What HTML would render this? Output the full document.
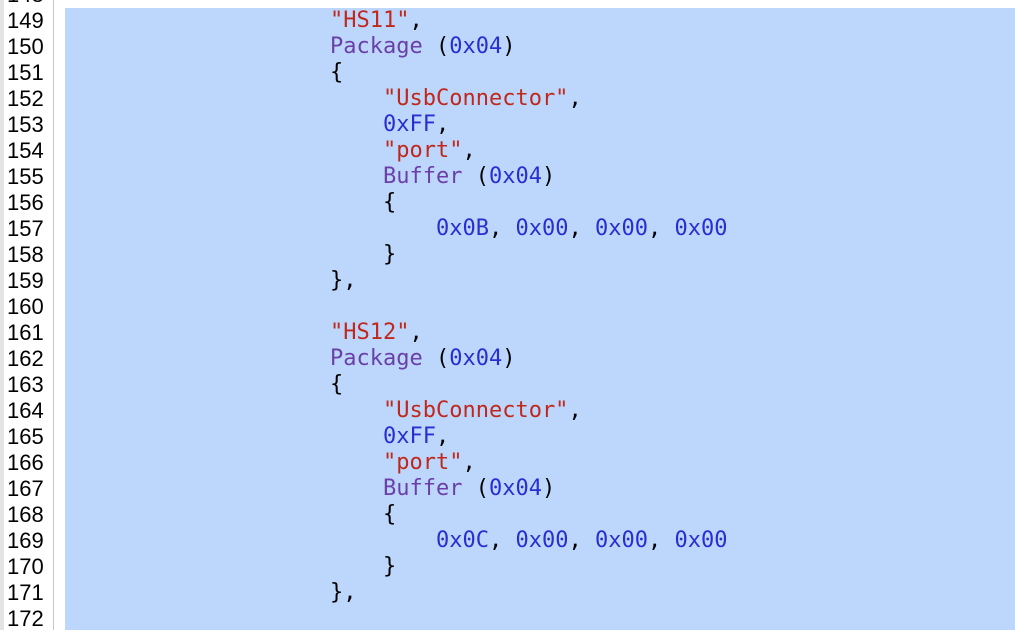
<!DOCTYPE html>
<html><head><meta charset="utf-8"><style>
body{margin:0;width:1015px;height:630px;overflow:hidden;background:#fff;position:relative;font-family:"DejaVu Sans Mono","Liberation Mono",monospace}
.gut{position:absolute;left:0;top:0;width:4px;height:630px;background:#e4e4e4}
.gl{position:absolute;left:53px;top:0;width:1px;height:630px;background:#c8c8c8}
.sel{position:absolute;left:65px;top:8px;width:950px;height:622px;background:#bdd6fc}
.n{position:absolute;left:7px;font-family:"Liberation Sans",sans-serif;font-size:22px;line-height:26px;color:#000}
.c{position:absolute;font-size:22px;line-height:26px;white-space:pre;color:#000}
.s{color:#c0281c}.p{color:#6a40a8}.h{color:#2a2ed0}
</style></head><body>
<div class="gut"></div><div class="gl"></div><div class="sel"></div>
<div class="n" style="top:-18px">148</div>
<div class="n" style="top:8px">149</div><div class="n" style="top:34px">150</div><div class="n" style="top:60px">151</div><div class="n" style="top:86px">152</div><div class="n" style="top:112px">153</div><div class="n" style="top:138px">154</div><div class="n" style="top:164px">155</div><div class="n" style="top:190px">156</div><div class="n" style="top:216px">157</div><div class="n" style="top:242px">158</div><div class="n" style="top:268px">159</div><div class="n" style="top:294px">160</div><div class="n" style="top:320px">161</div><div class="n" style="top:346px">162</div><div class="n" style="top:372px">163</div><div class="n" style="top:398px">164</div><div class="n" style="top:424px">165</div><div class="n" style="top:450px">166</div><div class="n" style="top:476px">167</div><div class="n" style="top:502px">168</div><div class="n" style="top:528px">169</div><div class="n" style="top:554px">170</div><div class="n" style="top:580px">171</div><div class="n" style="top:606px">172</div>

<div class="c" style="left:330px;top:8px"><span class="s">"HS11"</span>,</div>
<div class="c" style="left:330px;top:34px"><span class="p">Package</span> (<span class="h">0x04</span>)</div>
<div class="c" style="left:330px;top:60px">{</div>
<div class="c" style="left:383px;top:86px"><span class="s">"UsbConnector"</span>,</div>
<div class="c" style="left:383px;top:112px"><span class="h">0xFF</span>,</div>
<div class="c" style="left:383px;top:138px"><span class="s">"port"</span>,</div>
<div class="c" style="left:383px;top:164px"><span class="p">Buffer</span> (<span class="h">0x04</span>)</div>
<div class="c" style="left:383px;top:190px">{</div>
<div class="c" style="left:436px;top:216px"><span class="h">0x0B</span>, <span class="h">0x00</span>, <span class="h">0x00</span>, <span class="h">0x00</span></div>
<div class="c" style="left:383px;top:242px">}</div>
<div class="c" style="left:330px;top:268px">},</div>

<div class="c" style="left:330px;top:320px"><span class="s">"HS12"</span>,</div>
<div class="c" style="left:330px;top:346px"><span class="p">Package</span> (<span class="h">0x04</span>)</div>
<div class="c" style="left:330px;top:372px">{</div>
<div class="c" style="left:383px;top:398px"><span class="s">"UsbConnector"</span>,</div>
<div class="c" style="left:383px;top:424px"><span class="h">0xFF</span>,</div>
<div class="c" style="left:383px;top:450px"><span class="s">"port"</span>,</div>
<div class="c" style="left:383px;top:476px"><span class="p">Buffer</span> (<span class="h">0x04</span>)</div>
<div class="c" style="left:383px;top:502px">{</div>
<div class="c" style="left:436px;top:528px"><span class="h">0x0C</span>, <span class="h">0x00</span>, <span class="h">0x00</span>, <span class="h">0x00</span></div>
<div class="c" style="left:383px;top:554px">}</div>
<div class="c" style="left:330px;top:580px">},</div>
</body></html>
